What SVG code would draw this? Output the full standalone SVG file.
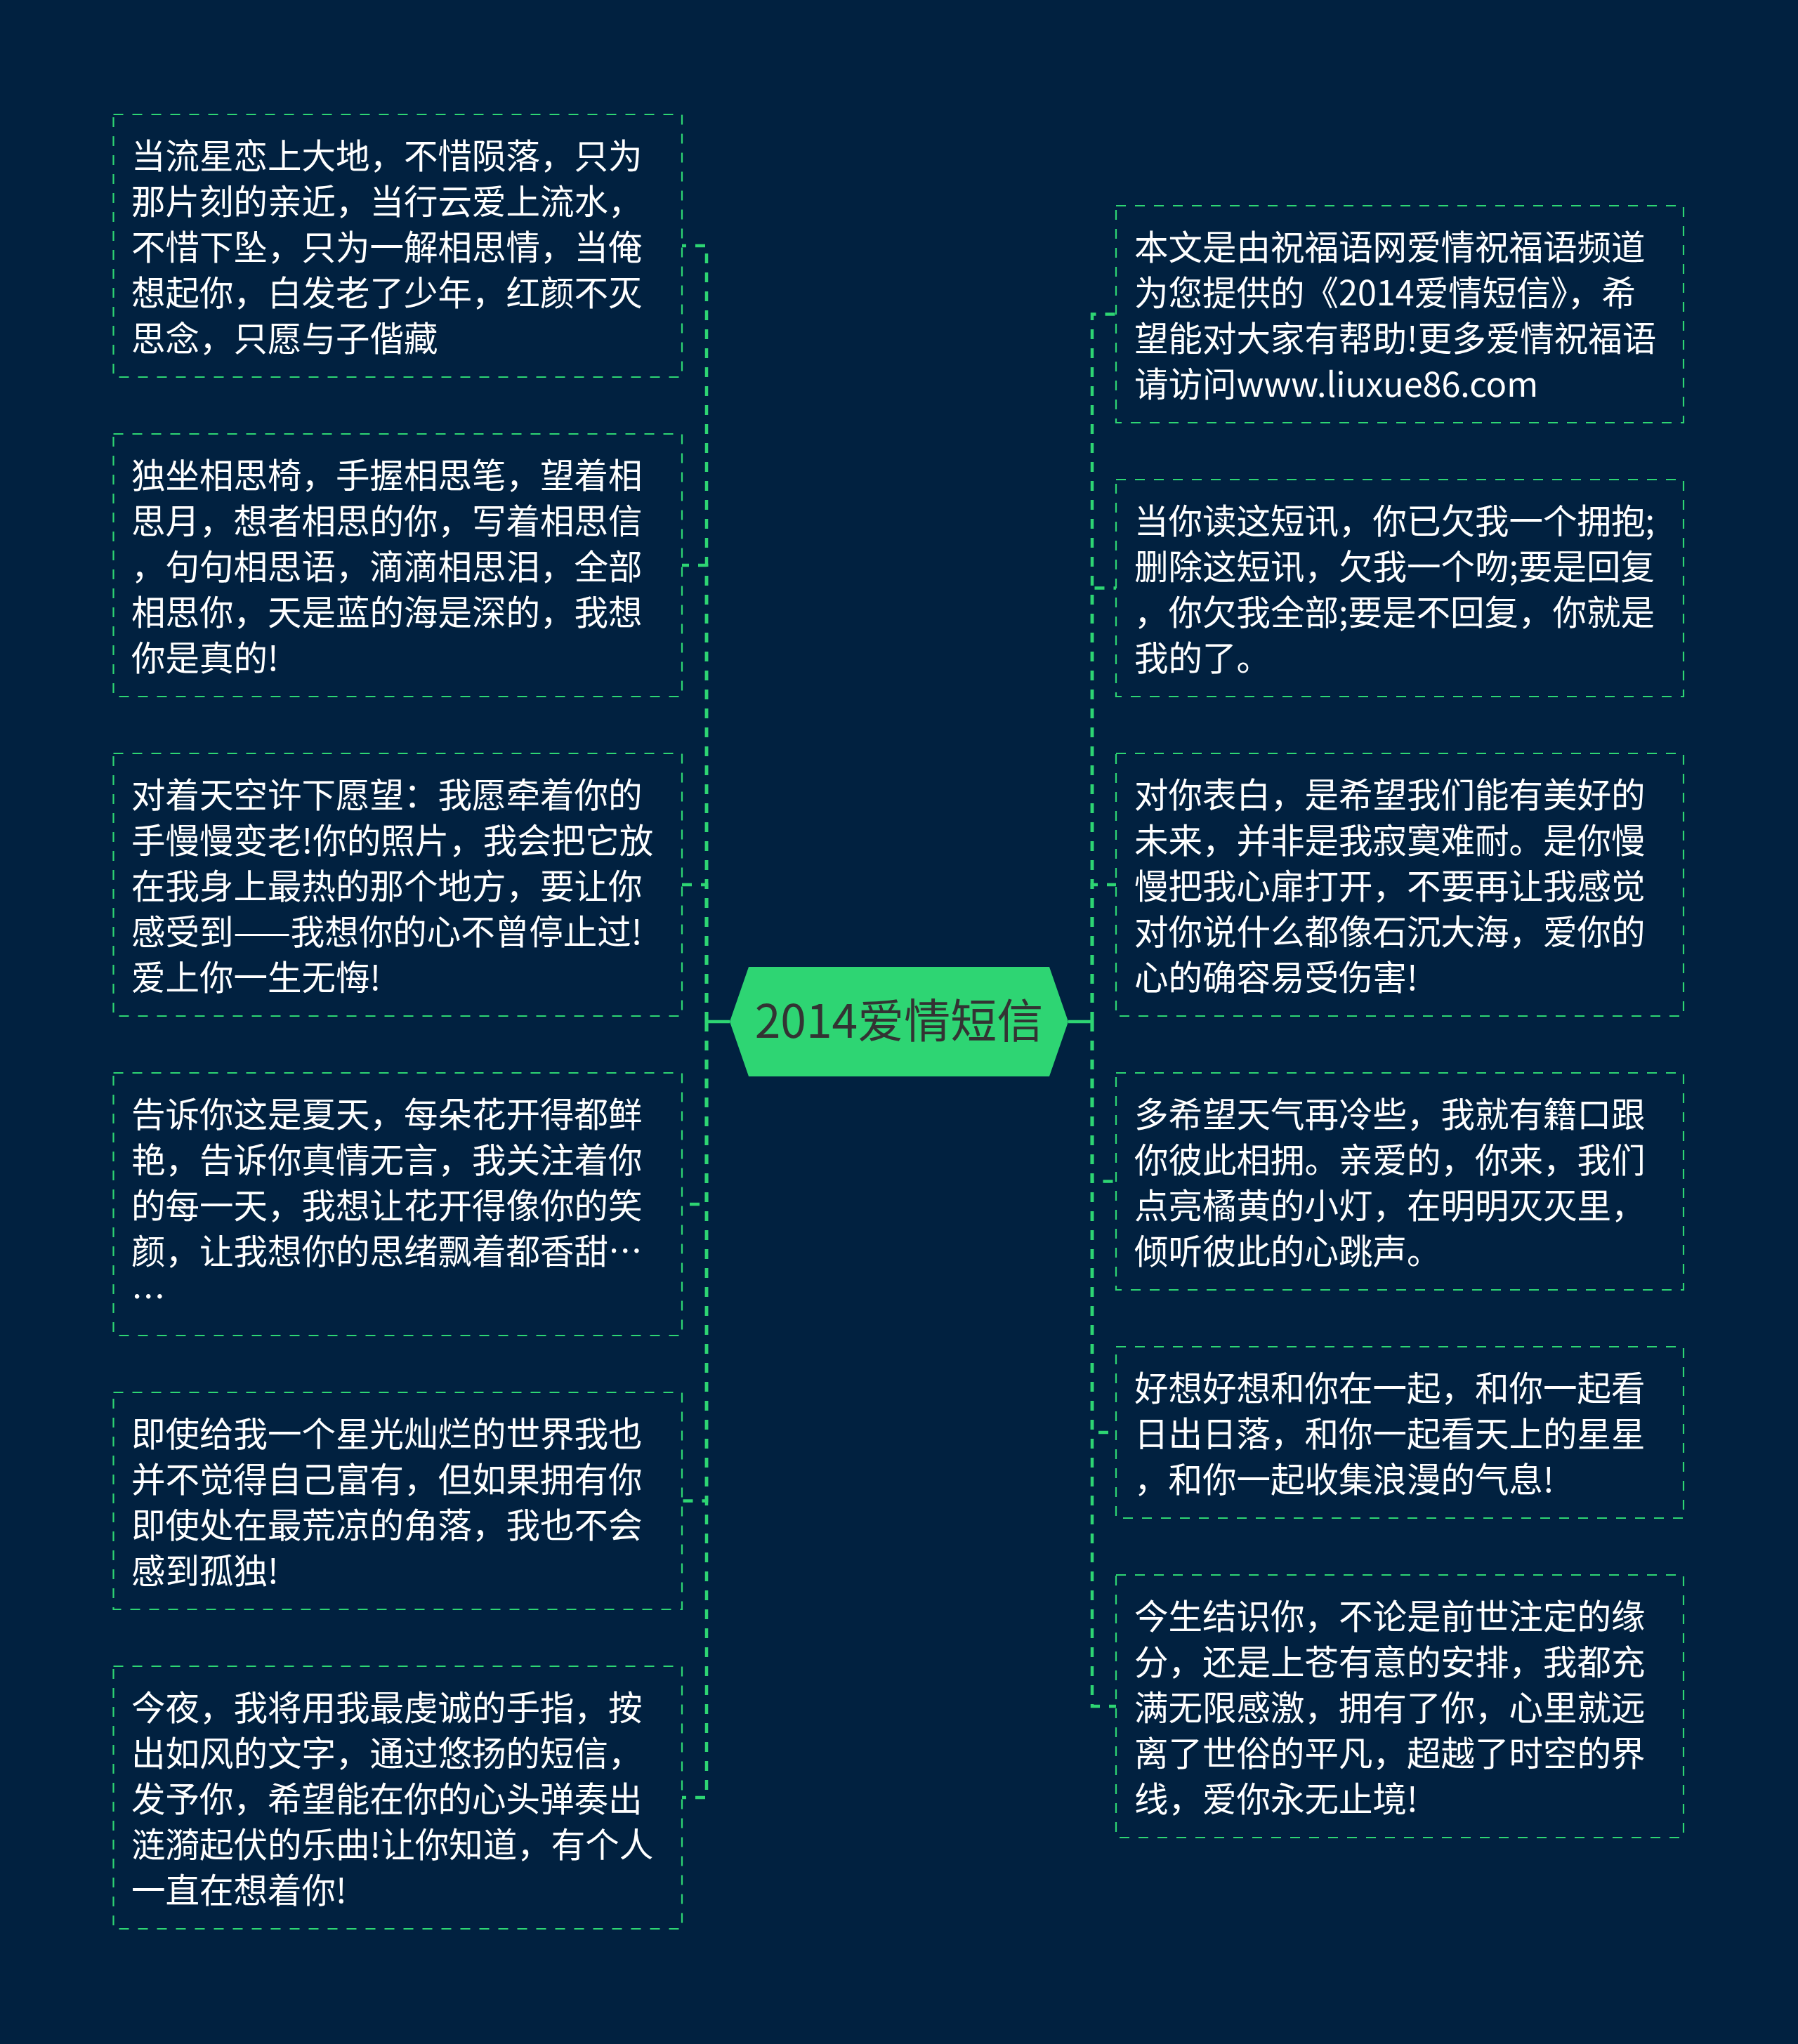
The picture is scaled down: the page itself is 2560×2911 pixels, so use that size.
<svg xmlns="http://www.w3.org/2000/svg" width="2560" height="2911" viewBox="0 0 2560 2911">
<style>
.bg{fill:#012140}
.box{fill:none;stroke:#2ed573;stroke-width:2.2;stroke-dasharray:14 13}
.link{fill:none;stroke:#2ed573;stroke-width:4.5;stroke-dasharray:14 13}
.stem{fill:none;stroke:#2ed573;stroke-width:4.5}
.t{font-family:"Noto Sans CJK SC","Noto Sans",sans-serif;font-size:48.5px;fill:#ffffff}
.ct{font-family:"Noto Sans CJK SC","Noto Sans",sans-serif;font-size:66px;fill:#333333;text-anchor:middle}
</style>
<rect class="bg" x="0" y="0" width="2560" height="2911"/>
<g id="connectors">
<path class="stem" d="M1006 1455H1039"/>
<path class="stem" d="M1521 1455H1555"/>
<path class="link" d="M1006 1455V350H971"/>
<path class="link" d="M1006 1455V805H971"/>
<path class="link" d="M1006 1455V1260H971"/>
<path class="link" d="M1006 1455V1715H971"/>
<path class="link" d="M1006 1455V2137.5H971"/>
<path class="link" d="M1006 1455V2560H971"/>
<path class="link" d="M1555 1455V447.5H1589"/>
<path class="link" d="M1555 1455V837.5H1589"/>
<path class="link" d="M1555 1455V1260H1589"/>
<path class="link" d="M1555 1455V1682.5H1589"/>
<path class="link" d="M1555 1455V2040H1589"/>
<path class="link" d="M1555 1455V2430H1589"/>
</g>
<g id="center">
<polygon points="1066,1377 1494,1377 1521,1455 1494,1533 1066,1533 1039,1455" fill="#2ed573"/>
<text class="ct" x="1280" y="1478">2014爱情短信</text>
</g>
<g id="left1">
<rect class="box" x="161.5" y="163" width="809.5" height="374"/>
<text class="t" x="187"><tspan x="187" y="240">当流星恋上大地，不惜陨落，只为</tspan><tspan x="187" y="305">那片刻的亲近，当行云爱上流水，</tspan><tspan x="187" y="370">不惜下坠，只为一解相思情，当俺</tspan><tspan x="187" y="435">想起你，白发老了少年，红颜不灭</tspan><tspan x="187" y="500">思念，只愿与子偕藏</tspan></text>
</g>
<g id="left2">
<rect class="box" x="161.5" y="618" width="809.5" height="374"/>
<text class="t" x="187"><tspan x="187" y="695">独坐相思椅，手握相思笔，望着相</tspan><tspan x="187" y="760">思月，想者相思的你，写着相思信</tspan><tspan x="187" y="825">，句句相思语，滴滴相思泪，全部</tspan><tspan x="187" y="890">相思你，天是蓝的海是深的，我想</tspan><tspan x="187" y="955">你是真的!</tspan></text>
</g>
<g id="left3">
<rect class="box" x="161.5" y="1073" width="809.5" height="374"/>
<text class="t" x="187"><tspan x="187" y="1150">对着天空许下愿望：我愿牵着你的</tspan><tspan x="187" y="1215">手慢慢变老!你的照片，我会把它放</tspan><tspan x="187" y="1280">在我身上最热的那个地方，要让你</tspan><tspan x="187" y="1345">感受到——我想你的心不曾停止过!</tspan><tspan x="187" y="1410">爱上你一生无悔!</tspan></text>
</g>
<g id="left4">
<rect class="box" x="161.5" y="1528" width="809.5" height="374"/>
<text class="t" x="187"><tspan x="187" y="1605">告诉你这是夏天，每朵花开得都鲜</tspan><tspan x="187" y="1670">艳，告诉你真情无言，我关注着你</tspan><tspan x="187" y="1735">的每一天，我想让花开得像你的笑</tspan><tspan x="187" y="1800">颜，让我想你的思绪飘着都香甜…</tspan><tspan x="187" y="1865">…</tspan></text>
</g>
<g id="left5">
<rect class="box" x="161.5" y="1983" width="809.5" height="309"/>
<text class="t" x="187"><tspan x="187" y="2060">即使给我一个星光灿烂的世界我也</tspan><tspan x="187" y="2125">并不觉得自己富有，但如果拥有你</tspan><tspan x="187" y="2190">即使处在最荒凉的角落，我也不会</tspan><tspan x="187" y="2255">感到孤独!</tspan></text>
</g>
<g id="left6">
<rect class="box" x="161.5" y="2373" width="809.5" height="374"/>
<text class="t" x="187"><tspan x="187" y="2450">今夜，我将用我最虔诚的手指，按</tspan><tspan x="187" y="2515">出如风的文字，通过悠扬的短信，</tspan><tspan x="187" y="2580">发予你，希望能在你的心头弹奏出</tspan><tspan x="187" y="2645">涟漪起伏的乐曲!让你知道，有个人</tspan><tspan x="187" y="2710">一直在想着你!</tspan></text>
</g>
<g id="right1">
<rect class="box" x="1589" y="293" width="808" height="309"/>
<text class="t" x="1615"><tspan x="1615" y="370">本文是由祝福语网爱情祝福语频道</tspan><tspan x="1615" y="435">为您提供的《2014爱情短信》，希</tspan><tspan x="1615" y="500">望能对大家有帮助!更多爱情祝福语</tspan><tspan x="1615" y="565">请访问www.liuxue86.com</tspan></text>
</g>
<g id="right2">
<rect class="box" x="1589" y="683" width="808" height="309"/>
<text class="t" x="1615"><tspan x="1615" y="760">当你读这短讯，你已欠我一个拥抱;</tspan><tspan x="1615" y="825">删除这短讯，欠我一个吻;要是回复</tspan><tspan x="1615" y="890">，你欠我全部;要是不回复，你就是</tspan><tspan x="1615" y="955">我的了。</tspan></text>
</g>
<g id="right3">
<rect class="box" x="1589" y="1073" width="808" height="374"/>
<text class="t" x="1615"><tspan x="1615" y="1150">对你表白，是希望我们能有美好的</tspan><tspan x="1615" y="1215">未来，并非是我寂寞难耐。是你慢</tspan><tspan x="1615" y="1280">慢把我心扉打开，不要再让我感觉</tspan><tspan x="1615" y="1345">对你说什么都像石沉大海，爱你的</tspan><tspan x="1615" y="1410">心的确容易受伤害!</tspan></text>
</g>
<g id="right4">
<rect class="box" x="1589" y="1528" width="808" height="309"/>
<text class="t" x="1615"><tspan x="1615" y="1605">多希望天气再冷些，我就有籍口跟</tspan><tspan x="1615" y="1670">你彼此相拥。亲爱的，你来，我们</tspan><tspan x="1615" y="1735">点亮橘黄的小灯，在明明灭灭里，</tspan><tspan x="1615" y="1800">倾听彼此的心跳声。</tspan></text>
</g>
<g id="right5">
<rect class="box" x="1589" y="1918" width="808" height="244"/>
<text class="t" x="1615"><tspan x="1615" y="1995">好想好想和你在一起，和你一起看</tspan><tspan x="1615" y="2060">日出日落，和你一起看天上的星星</tspan><tspan x="1615" y="2125">，和你一起收集浪漫的气息!</tspan></text>
</g>
<g id="right6">
<rect class="box" x="1589" y="2243" width="808" height="374"/>
<text class="t" x="1615"><tspan x="1615" y="2320">今生结识你，不论是前世注定的缘</tspan><tspan x="1615" y="2385">分，还是上苍有意的安排，我都充</tspan><tspan x="1615" y="2450">满无限感激，拥有了你，心里就远</tspan><tspan x="1615" y="2515">离了世俗的平凡，超越了时空的界</tspan><tspan x="1615" y="2580">线，爱你永无止境!</tspan></text>
</g>
</svg>
